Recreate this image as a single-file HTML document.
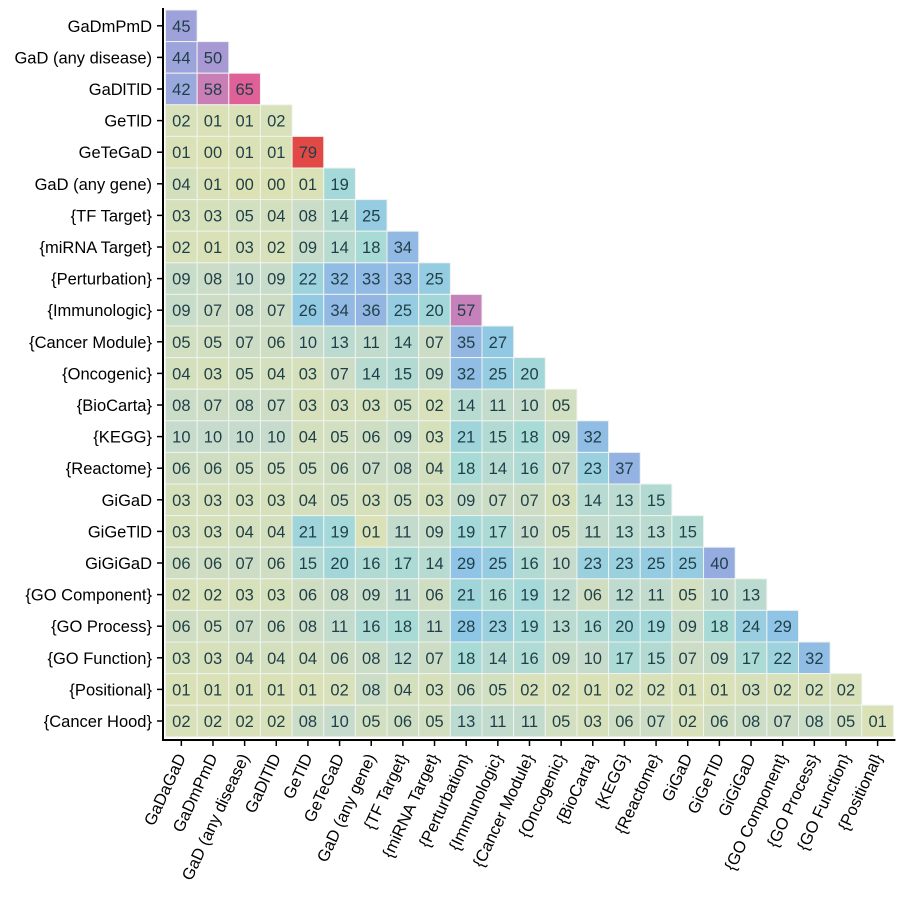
<!DOCTYPE html>
<html><head><meta charset="utf-8"><style>
body{margin:0;background:#fff}
svg{font-family:"Liberation Sans",sans-serif}
</style></head><body>
<svg id="c" width="900" height="900"></svg>
<script>
const rowLabels=["GaDmPmD","GaD (any disease)","GaDlTlD","GeTlD","GeTeGaD","GaD (any gene)","{TF Target}","{miRNA Target}","{Perturbation}","{Immunologic}","{Cancer Module}","{Oncogenic}","{BioCarta}","{KEGG}","{Reactome}","GiGaD","GiGeTlD","GiGiGaD","{GO Component}","{GO Process}","{GO Function}","{Positional}","{Cancer Hood}"];
const colLabels=["GaDaGaD","GaDmPmD","GaD (any disease)","GaDlTlD","GeTlD","GeTeGaD","GaD (any gene)","{TF Target}","{miRNA Target}","{Perturbation}","{Immunologic}","{Cancer Module}","{Oncogenic}","{BioCarta}","{KEGG}","{Reactome}","GiGaD","GiGeTlD","GiGiGaD","{GO Component}","{GO Process}","{GO Function}","{Positional}"];
const values=[
[45],
[44,50],
[42,58,65],
[2,1,1,2],
[1,0,1,1,79],
[4,1,0,0,1,19],
[3,3,5,4,8,14,25],
[2,1,3,2,9,14,18,34],
[9,8,10,9,22,32,33,33,25],
[9,7,8,7,26,34,36,25,20,57],
[5,5,7,6,10,13,11,14,7,35,27],
[4,3,5,4,3,7,14,15,9,32,25,20],
[8,7,8,7,3,3,3,5,2,14,11,10,5],
[10,10,10,10,4,5,6,9,3,21,15,18,9,32],
[6,6,5,5,5,6,7,8,4,18,14,16,7,23,37],
[3,3,3,3,4,5,3,5,3,9,7,7,3,14,13,15],
[3,3,4,4,21,19,1,11,9,19,17,10,5,11,13,13,15],
[6,6,7,6,15,20,16,17,14,29,25,16,10,23,23,25,25,40],
[2,2,3,3,6,8,9,11,6,21,16,19,12,6,12,11,5,10,13],
[6,5,7,6,8,11,16,18,11,28,23,19,13,16,20,19,9,18,24,29],
[3,3,4,4,4,6,8,12,7,18,14,16,9,10,17,15,7,9,17,22,32],
[1,1,1,1,1,2,8,4,3,6,5,2,2,1,2,2,1,1,3,2,2,2],
[2,2,2,2,8,10,5,6,5,13,11,11,5,3,6,7,2,6,8,7,8,5,1]
];
const stops=[[0,[221,226,180]],[10,[198,219,204]],[18,[168,218,214]],[28,[142,198,230]],[40,[150,172,224]],[50,[168,152,212]],[58,[202,126,182]],[65,[224,96,152]],[80,[226,70,64]]];
function color(v){for(let i=1;i<stops.length;i++){if(v<=stops[i][0]){const a=stops[i-1],b=stops[i],t=(v-a[0])/(b[0]-a[0]);const c=a[1].map((x,k)=>Math.round(x+(b[1][k]-x)*t));return `rgb(${c})`;}}return 'rgb(226,70,64)';}
const x0=165.5,y0=10,cw=31.65,ch=31.6,n=23;
const X=j=>x0+j*cw, Y=i=>y0+i*ch;
const svg=document.getElementById('c');const NS='http://www.w3.org/2000/svg';
function mk(t,a,p){const e=document.createElementNS(NS,t);for(const k in a)e.setAttribute(k,a[k]);(p||svg).appendChild(e);return e;}
values.forEach((row,i)=>row.forEach((v,j)=>{
 const r=mk('rect',{x:X(j),y:Y(i),width:cw,height:ch,fill:color(v),stroke:'#eef3ee','stroke-width':1});
 
 
 const t=mk('text',{x:X(j)+cw/2,y:Y(i)+ch/2+6,'text-anchor':'middle','font-size':16.5,fill:'#1f3f48'});
 t.textContent=String(v).padStart(2,'0');
 
 
}));
const ax=mk('line',{x1:163,y1:Y(0)-2,x2:163,y2:740,stroke:'#000','stroke-width':2});


const bx=mk('line',{x1:162,y1:740,x2:X(n)+2,y2:740,stroke:'#000','stroke-width':2});


rowLabels.forEach((l,i)=>{
 mk('line',{x1:157,y1:Y(i)+ch/2,x2:163,y2:Y(i)+ch/2,stroke:'#000','stroke-width':1.5});
 const t=mk('text',{x:152,y:Y(i)+ch/2+6,'text-anchor':'end','font-size':16.5,fill:'#000'});
 t.textContent=l;
 
 
});
colLabels.forEach((l,j)=>{
 const cx=X(j)+cw/2;
 mk('line',{x1:cx,y1:740,x2:cx,y2:746,stroke:'#000','stroke-width':1.5});
 const t=mk('text',{x:cx+5,y:757,'text-anchor':'end','font-size':16.5,fill:'#000',transform:`rotate(-65 ${cx+5} 757)`});
 t.textContent=l;
 
 
});
</script>
</body></html>
